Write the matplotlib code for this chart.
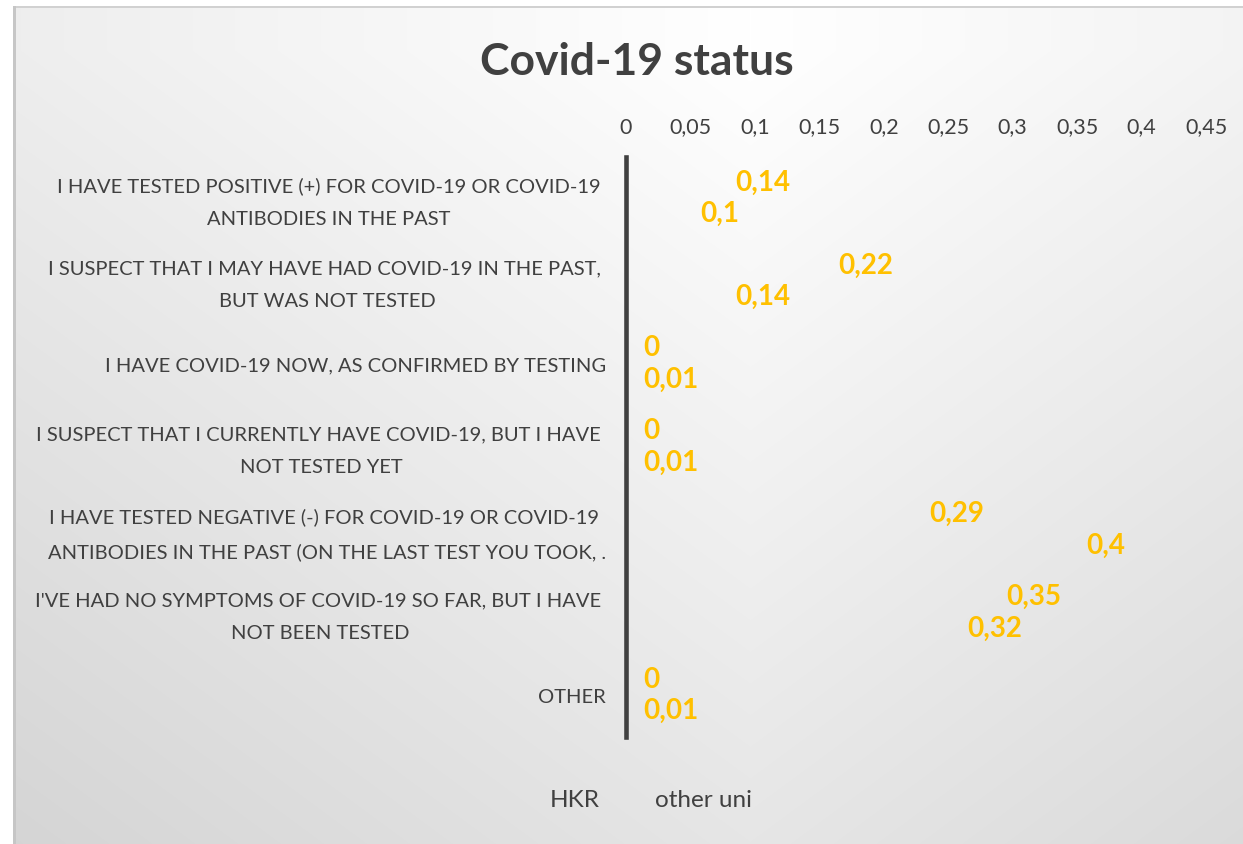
import numpy as np
import matplotlib
matplotlib.use("Agg")
import matplotlib.pyplot as plt
from matplotlib.patches import Patch
from matplotlib.transforms import ScaledTranslation

plt.rcParams['font.family'] = ['Lato', 'DejaVu Sans']

categories = [
    "I HAVE TESTED POSITIVE (+) FOR COVID-19 OR COVID-19 \nANTIBODIES IN THE PAST ",
    "I SUSPECT THAT I MAY HAVE HAD COVID-19 IN THE PAST, \nBUT WAS NOT TESTED",
    "I HAVE COVID-19 NOW, AS CONFIRMED BY TESTING",
    "I SUSPECT THAT I CURRENTLY HAVE COVID-19, BUT I HAVE \nNOT TESTED YET",
    "I HAVE TESTED NEGATIVE (-) FOR COVID-19 OR COVID-19 \nANTIBODIES IN THE PAST (ON THE LAST TEST YOU TOOK, .",
    "I'VE HAD NO SYMPTOMS OF COVID-19 SO FAR, BUT I HAVE \nNOT BEEN TESTED",
    "OTHER",
]
series_names = ["HKR", "other uni"]
hkr = [0.14, 0.22, 0.0, 0.0, 0.29, 0.35, 0.0]
other_uni = [0.10, 0.14, 0.01, 0.01, 0.40, 0.32, 0.01]
xticks = [0, 0.05, 0.1, 0.15, 0.2, 0.25, 0.3, 0.35, 0.4, 0.45]
title = "Covid-19 status"

W, H = 1243, 844
fig = plt.figure(figsize=(W / 100, H / 100), dpi=100)

# background gradient
bg = fig.add_axes([0, 0, 1, 1], zorder=-10)
xx, yy = np.meshgrid(np.arange(W), np.arange(H))
val = 255 - 0.0233 * np.abs(xx - 750) - 0.0316 * np.clip(yy - 50, 0, None)
val = np.clip(val, 0, 255) / 255.0
img = np.dstack([val, val, val])
img[:6, :, :] = 1.0
img[:, :13, :] = 1.0
img[6:8, 13:, :] = 0.82
img[6:, 13:16, :] = 0.78
bg.imshow(img, extent=[0, W, H, 0], aspect='auto', interpolation='bilinear')
bg.set_xlim(0, W)
bg.set_ylim(H, 0)
bg.axis('off')

left, right, top, bottom = 626, 1206, 157, 737
ax = fig.add_axes([left / W, 1 - bottom / H, (right - left) / W, (bottom - top) / H])
ax.patch.set_alpha(0)

n = len(categories)
y = np.arange(n)
off = 0.19
ax.barh(y - off, hkr, height=0.36, color='none', edgecolor='none', label=series_names[0])
ax.barh(y + off, other_uni, height=0.36, color='none', edgecolor='none', label=series_names[1])

ax.set_xlim(0, 0.45)
ax.set_ylim(n - 0.5, -0.5)
ax.xaxis.tick_top()
ax.set_xticks(xticks)
ax.set_xticklabels([f"{t:g}".replace('.', ',') for t in xticks])
ax.tick_params(axis='x', length=0, pad=14, labelsize=15.5, labelcolor='#404040')
ax.set_yticks(y)
ax.set_yticklabels(categories, multialignment='center')
ax.tick_params(axis='y', length=0, pad=14.4, labelsize=14.5, labelcolor='#404040')
for lbl in ax.get_yticklabels():
    lbl.set_linespacing(2.1)
    if "\n" in lbl.get_text():
        lbl.set_transform(lbl.get_transform() + ScaledTranslation(0, 5 / 100, fig.dpi_scale_trans))
for s in ['top', 'right', 'bottom']:
    ax.spines[s].set_visible(False)
ax.spines['left'].set_color('#404040')
ax.spines['left'].set_linewidth(3.3)

gold = '#FFC000'
def fmt(v):
    return f"{v:g}".replace('.', ',')

for vals, dy in [(hkr, -off), (other_uni, off)]:
    for i, v in enumerate(vals):
        if v >= 0.05:
            ax.annotate(fmt(v), xy=(v, i + dy), xytext=(-11.5, 0), textcoords='offset points',
                        ha='right', va='center', color=gold, fontsize=20, fontweight='bold')
        else:
            ax.annotate(fmt(v), xy=(0, i + dy), xytext=(12.2, 0), textcoords='offset points',
                        ha='left', va='center', color=gold, fontsize=20, fontweight='bold')

fig.text(637 / W, 1 - 62 / H, title, ha='center', va='center', fontsize=32,
         fontweight='bold', color='#404040')

handles = [Patch(facecolor='none', edgecolor='none'), Patch(facecolor='none', edgecolor='none')]
fig.legend(handles, series_names, loc='center', bbox_to_anchor=(640 / W, 1 - 800 / H),
           ncol=2, frameon=False, fontsize=17.5, labelcolor='#404040',
           handlelength=0.6, handletextpad=0.3, columnspacing=1.4)

fig.savefig('out.png', dpi=100)
